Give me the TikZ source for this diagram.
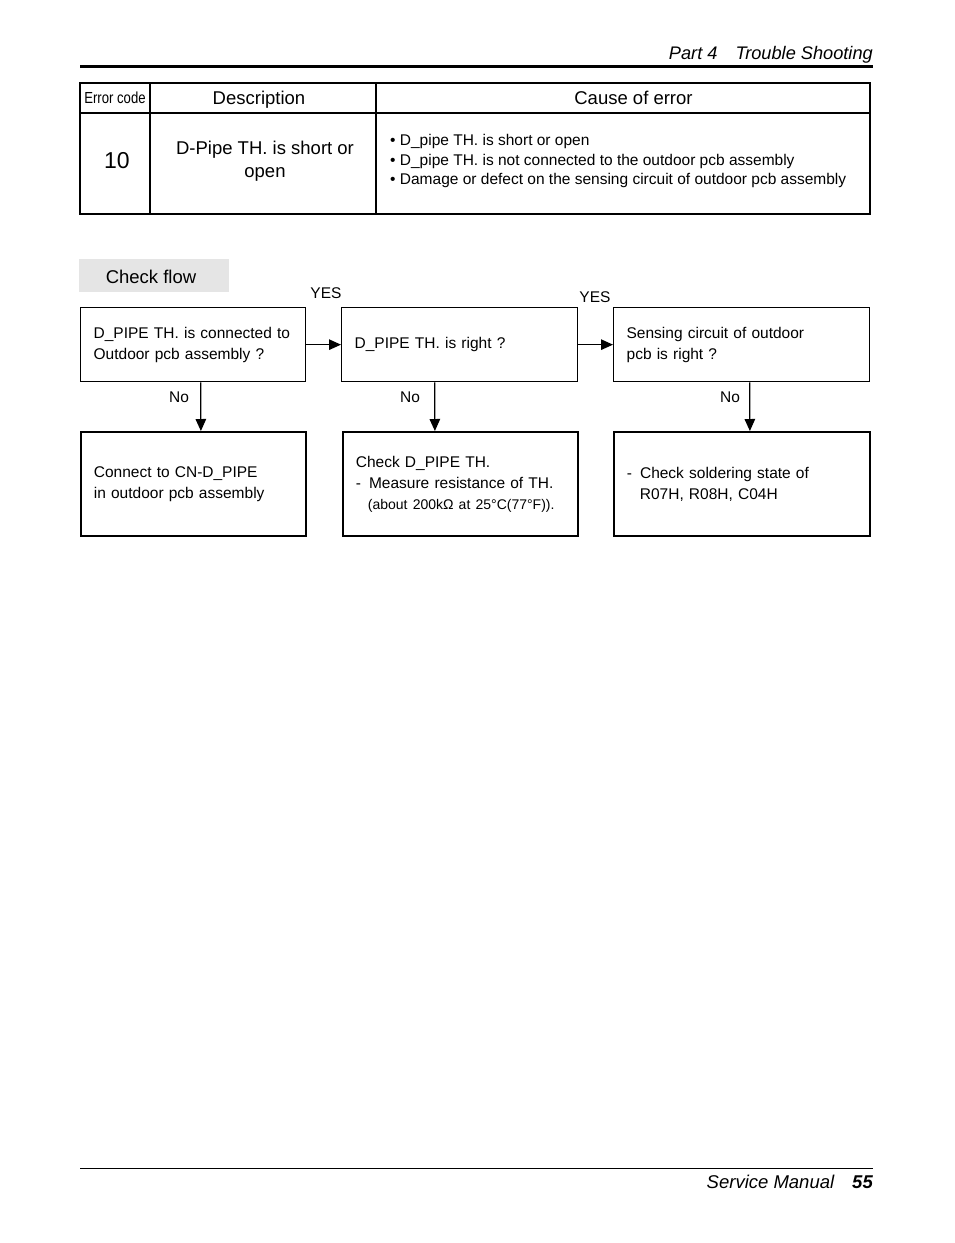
\documentclass[tikz,border=0pt]{standalone}
\usepackage{fontspec}
\setmainfont{Liberation Sans}
\usetikzlibrary{arrows.meta}

\begin{document}
\begin{tikzpicture}[
    x=1pt, y=-1pt,
    every node/.style={inner sep=0pt},
    flowbox/.style={draw, line width=1.3pt, anchor=north west, align=left,
      inner xsep=13pt, font=\fontsize{15.5}{21}\selectfont},
    answerbox/.style={flowbox, line width=1.8pt},
    flowlabel/.style={font=\fontsize{15.5}{18}\selectfont},
    headtext/.style={font=\fontsize{18.5}{23}\selectfont},
    arr/.style={draw, line width=1.2pt, -{Triangle[length=12pt,width=10.5pt]}}
  ]
  \useasboundingbox (0,0) rectangle (954,1243);

  \draw[line width=3pt] (80,66.5) -- (873,66.5);
  \node[anchor=base east, font=\fontsize{18.2}{20}\selectfont\itshape] (part) at (873,59.5)
    {Part 4\hspace{18pt}Trouble Shooting};

  \draw[line width=2.2pt] (80,83) rectangle (870,214);
  \draw[line width=1.2pt] (80,113) -- (870,113)
    (150,83) -- (150,214)
    (376,83) -- (376,214);
  \node[font=\fontsize{16}{18}\selectfont] (errcode) at (115,98)
    {\scalebox{0.82}[1]{Error code}};
  \node[headtext, anchor=base] (desc) at (259,104.5) {Description};
  \node[headtext, anchor=base] (cause) at (633.5,104.5) {Cause of error};
  \node[font=\fontsize{23}{26}\selectfont] (code) at (117,161) {10};
  \node[headtext, align=center] (short) at (265,161) {D-Pipe TH. is short or\\open};
  \node[anchor=west, align=left, font=\fontsize{15.5}{19.5}\selectfont] (causes) at (390,161)
    {• D\_pipe TH. is short or open\\
     • D\_pipe TH. is not connected to the outdoor pcb assembly\\
     • Damage or defect on the sensing circuit of outdoor pcb assembly};

  \fill[black!10] (79,259) rectangle (229,292);
  \node[headtext] (check) at (151,276.5) {Check flow};

  \node[flowbox, minimum width=225pt, minimum height=74pt, text width=199pt] (conn) at (80,307)
    {D\_PIPE TH. is connected to\\Outdoor pcb assembly ?};
  \node[flowbox, minimum width=236pt, minimum height=74pt, text width=210pt] (right) at (341,307)
    {D\_PIPE TH. is right ?};
  \node[flowbox, minimum width=256pt, minimum height=74pt, text width=230pt] (sense) at (613,307)
    {Sensing circuit of outdoor\\pcb is right ?};

  \node[answerbox, minimum width=225pt, minimum height=104pt, text width=199pt] (fixconn) at (80,431)
    {Connect to CN-D\_PIPE\\in outdoor pcb assembly};
  \node[answerbox, minimum width=235pt, minimum height=104pt, text width=209pt] (measure) at (342,431)
    {Check D\_PIPE TH.\\
     -\hspace{8pt}Measure resistance of TH.\\
     \hspace{12pt}{\fontsize{14}{21}\selectfont(about 200kΩ at 25°C(77°F)).}};
  \node[answerbox, minimum width=256pt, minimum height=104pt, text width=230pt] (solder) at (613,431)
    {-\hspace{8pt}Check soldering state of\\\hspace{13pt}R07H, R08H, C04H};

  \draw[arr] (conn) -- (right);
  \draw[arr] (right) -- (sense);
  \draw[arr] ([xshift=7.5pt]conn.south) -- ([xshift=7.5pt]fixconn.north);
  \draw[arr] ([xshift=-25pt]right.south) -- ([xshift=-25.5pt]measure.north);
  \draw[arr] ([xshift=8pt]sense.south) -- ([xshift=8pt]solder.north);

  \node[flowlabel] (yes1) at (326,293) {YES};
  \node[flowlabel] (yes2) at (595,297) {YES};
  \node[flowlabel] (no1) at (179,397) {No};
  \node[flowlabel] (no2) at (410,397) {No};
  \node[flowlabel] (no3) at (730,397) {No};

  \draw[line width=1pt] (80,1168) -- (873,1168);
  \node[anchor=base east, font=\fontsize{18.5}{20}\selectfont\itshape] (manual) at (873,1188)
    {Service Manual\hspace{18pt}\textbf{55}};
\end{tikzpicture}
\end{document}
